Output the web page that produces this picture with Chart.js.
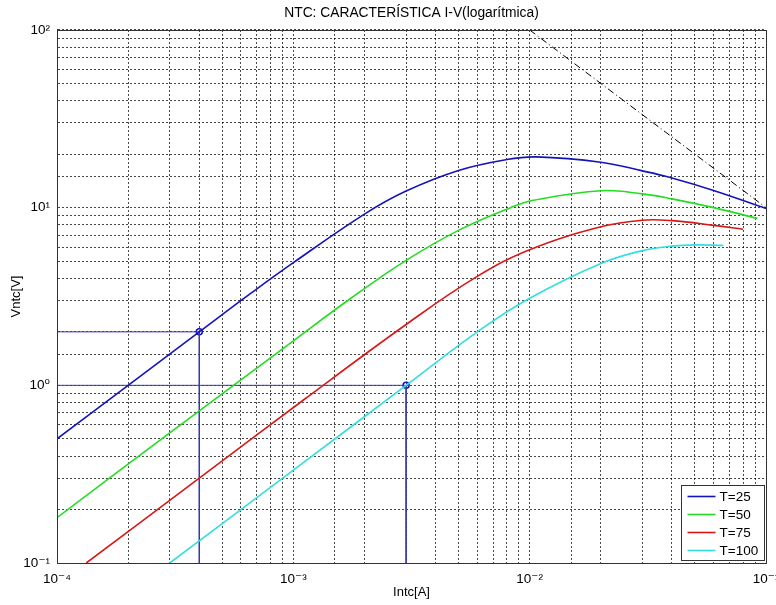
<!DOCTYPE html>
<html>
<head>
<meta charset="utf-8">
<script src="https://cdn.jsdelivr.net/npm/chart.js@4"></script>
<style>
  html, body { margin: 0; padding: 0; background: #fff; }
  #wrap { width: 776px; height: 605px; }
</style>
</head>
<body>
<div id="wrap"><canvas id="c" width="776" height="605"></canvas></div>
<script>
// ---- data ----
const seriesLabels = ['T=25', 'T=50', 'T=75', 'T=100'];

const current_T25 = [1e-4, 2e-4, 4e-4, 6.6e-4, 1e-3, 2e-3, 3e-3, 5e-3, 8e-3, 1.07e-2, 2e-2, 3e-2, 4e-2, 6e-2, 1e-1];
const voltage_T25 = [0.50, 1.00, 2.00, 3.29, 4.9, 9.2, 12.4, 16.2, 18.65, 19.3, 18.0, 16.1, 14.7, 12.5, 9.9];

const current_T50 = [1e-4, 3e-4, 1e-3, 1.74e-3, 3e-3, 5e-3, 8.3e-3, 1.04e-2, 2e-2, 3e-2, 4e-2, 6e-2, 9.2e-2];
const voltage_T50 = [0.18, 0.54, 1.78, 3.07, 5.05, 7.45, 10.0, 11.0, 12.45, 11.95, 11.2, 10.0, 8.7];

const current_T75 = [1.33e-4, 4e-4, 1.1e-3, 3e-3, 6e-3, 1e-2, 2e-2, 3e-2, 4e-2, 6e-2, 8e-2];
const voltage_T75 = [0.10, 0.30, 0.824, 2.2, 4.1, 5.8, 7.8, 8.5, 8.45, 7.95, 7.55];

const current_T100 = [3e-4, 1e-3, 3e-3, 6.17e-3, 1e-2, 2e-2, 3e-2, 4e-2, 5e-2, 6.6e-2];
const voltage_T100 = [0.10, 0.333, 1.0, 2.05, 3.09, 4.85, 5.73, 6.07, 6.17, 6.13];

const markerCurrents = [4e-4, 3e-3];
const markerVoltages = [2, 1];

const powerLineCurrents = [1e-2, 1e-1];
const powerLineVoltages = [100, 10];

const xTickExponents = [-4, -3, -2, -1];
const yTickExponents = [-1, 0, 1, 2];

const titleText = 'NTC: CARACTERÍSTICA I-V(logarítmica)';
const xTitleText = 'Intc[A]';
const yTitleText = 'Vntc[V]';

// ---- helpers ----
const X_MIN = Math.pow(10, xTickExponents[0]);
const X_MAX = Math.pow(10, xTickExponents[xTickExponents.length - 1]);
const Y_MIN = Math.pow(10, yTickExponents[0]);
const Y_MAX = Math.pow(10, yTickExponents[yTickExponents.length - 1]);

const SUP = {'-': '\u207B', '0': '\u2070', '1': '\u00B9', '2': '\u00B2', '3': '\u00B3', '4': '\u2074',
             '5': '\u2075', '6': '\u2076', '7': '\u2077', '8': '\u2078', '9': '\u2079'};
function powLabel(e) { return '10' + String(e).split('').map(c => SUP[c]).join(''); }
function decadeLabel(exps) {
  return function (value) {
    const e = Math.log10(value);
    const r = Math.round(e);
    if (Math.abs(e - r) < 1e-6 && exps.includes(r)) return powLabel(r);
    return '';
  };
}
const pts = (xs, ys) => xs.map((x, i) => ({x: x, y: ys[i]}));

const colors = ['#1414b8', '#22dd22', '#d81818', '#33dede'];
const curves = [
  [current_T25, voltage_T25],
  [current_T50, voltage_T50],
  [current_T75, voltage_T75],
  [current_T100, voltage_T100]
];

const datasets = curves.map((c, i) => ({
  label: seriesLabels[i],
  data: pts(c[0], c[1]),
  borderColor: colors[i],
  backgroundColor: colors[i],
  borderWidth: 1.6,
  pointRadius: 0,
  tension: 0.4,
  fill: false,
  isCurve: true
}));

// guide lines from axis edges to each marker point
markerCurrents.forEach((I, k) => {
  const V = markerVoltages[k];
  datasets.push({
    label: 'guide' + k,
    data: [{x: X_MIN, y: V}, {x: I, y: V}, {x: I, y: Y_MIN}],
    borderColor: '#3a3aa8',
    borderWidth: 1,
    pointRadius: 0,
    tension: 0,
    fill: false
  });
});
datasets.push({
  label: 'markers',
  data: pts(markerCurrents, markerVoltages),
  showLine: false,
  pointRadius: 3,
  pointBorderWidth: 1.5,
  pointBorderColor: '#1010c0',
  pointBackgroundColor: 'rgba(0,0,0,0)',
  pointStyle: 'circle'
});
datasets.push({
  label: 'power',
  data: pts(powerLineCurrents, powerLineVoltages),
  borderColor: '#000',
  borderWidth: 1,
  borderDash: [7, 3, 1, 3],
  pointRadius: 0,
  tension: 0,
  fill: false
});

const FONT = "'Liberation Sans', Arial, Helvetica, 'DejaVu Sans', sans-serif";

const framePlugin = {
  id: 'frame',
  afterDatasetsDraw(chart) {
    const a = chart.chartArea, ctx = chart.ctx;
    ctx.save();
    ctx.strokeStyle = '#333';
    ctx.lineWidth = 1;
    ctx.strokeRect(Math.round(a.left) + 0.5, Math.round(a.top) + 0.5,
                   Math.round(a.right - a.left), Math.round(a.bottom - a.top));
    ctx.restore();
  },
  afterDraw(chart) {
    // legend box at bottom-right inside plot area
    const a = chart.chartArea, ctx = chart.ctx;
    const items = chart.data.datasets.filter(d => d.isCurve);
    const boxW = 83, rowH = 18, boxH = 75;
    const x0 = Math.round(a.right) - 85 + 0.5, y0 = Math.round(a.bottom) - 78 + 0.5;
    ctx.save();
    ctx.fillStyle = '#fff';
    ctx.fillRect(x0, y0, boxW, boxH);
    ctx.strokeStyle = '#333';
    ctx.lineWidth = 1;
    ctx.strokeRect(x0, y0, boxW, boxH);
    ctx.font = '13.5px ' + FONT;
    ctx.textBaseline = 'middle';
    ctx.textAlign = 'left';
    items.forEach((d, i) => {
      const cy = y0 + 11 + i * rowH;
      ctx.strokeStyle = d.borderColor;
      ctx.lineWidth = 1.6;
      ctx.beginPath();
      ctx.moveTo(x0 + 6, cy);
      ctx.lineTo(x0 + 34, cy);
      ctx.stroke();
      ctx.fillStyle = '#000';
      ctx.fillText(d.label, x0 + 38, cy + 1);
    });
    ctx.restore();
  }
};

const gridCommon = {
  color: 'rgba(0,0,0,0.72)',
  lineWidth: 1,
  drawTicks: false
};

new Chart(document.getElementById('c'), {
  type: 'line',
  data: { datasets: datasets },
  options: {
    responsive: false,
    animation: false,
    devicePixelRatio: 1,
    layout: { padding: { left: 0, right: 10, top: 0, bottom: 0 } },
    plugins: {
      legend: { display: false },
      tooltip: { enabled: false },
      title: {
        display: true,
        fullSize: false,
        text: titleText,
        color: '#000',
        font: { family: FONT, size: 13.8, weight: 'normal', lineHeight: 1.2 },
        padding: { top: 5, bottom: 8.4 }
      }
    },
    scales: {
      x: {
        type: 'logarithmic',
        min: X_MIN, max: X_MAX,
        grid: gridCommon,
        border: { display: true, color: '#333', width: 1, dash: [2, 2] },
        ticks: {
          autoSkip: false, maxRotation: 0, minRotation: 0, padding: 8,
          color: '#000', font: { family: FONT, size: 13.5 },
          callback: decadeLabel(xTickExponents)
        },
        title: {
          display: true, text: xTitleText, color: '#000',
          font: { family: FONT, size: 13, lineHeight: 1.2 },
          padding: { top: 0, bottom: 5 }
        },
        afterFit(scale) {
          scale.height = 42;
          scale.paddingLeft = 0; scale.paddingRight = 0;
        }
      },
      y: {
        type: 'logarithmic',
        min: Y_MIN, max: Y_MAX,
        grid: gridCommon,
        border: { display: true, color: '#333', width: 1, dash: [2, 2] },
        ticks: {
          autoSkip: false, padding: 7,
          color: '#000', font: { family: FONT, size: 13.5 },
          callback: decadeLabel(yTickExponents)
        },
        title: {
          display: true, text: yTitleText, color: '#000',
          font: { family: FONT, size: 13, lineHeight: 1.2 },
          padding: { top: 9, bottom: 0 }
        },
        afterFit(scale) {
          scale.width = 57;
          scale.paddingTop = 0; scale.paddingBottom = 0;
        }
      }
    }
  },
  plugins: [framePlugin]
});
</script>
</body>
</html>
